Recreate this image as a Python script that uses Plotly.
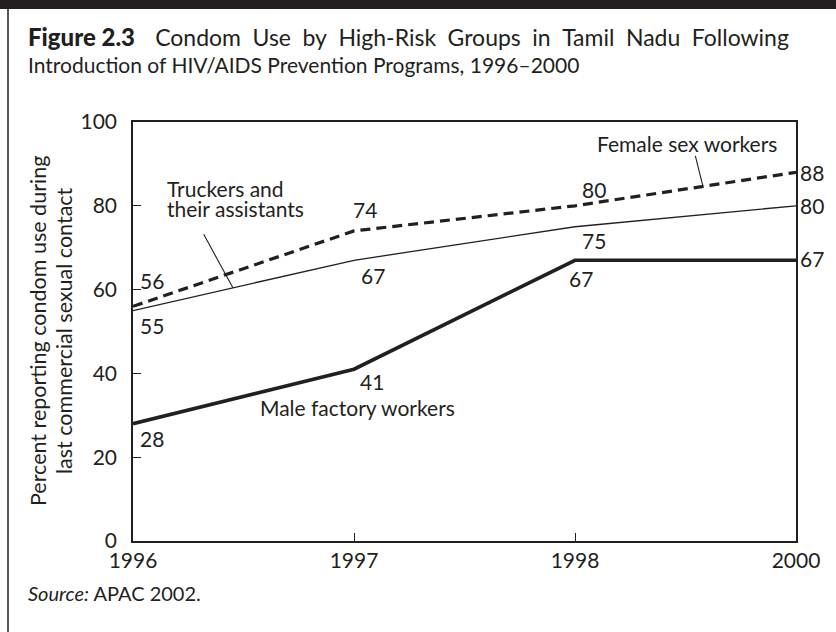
import plotly.graph_objects as go

# ---- data ----
years = ["1996", "1997", "1998", "2000"]
female_sex_workers = [56, 74, 80, 88]
truckers = [55, 67, 75, 80]
male_factory = [28, 41, 67, 67]

fig_label = "Figure 2.3"
title_line1 = "Condom Use by High-Risk Groups in Tamil Nadu Following"
title_line2 = "Introduction of HIV/AIDS Prevention Programs, 1996\u20132000"
ytitle1 = "Percent reporting condom use during"
ytitle2 = "last commercial sexual contact"
source = "APAC 2002."

# ---- layout constants ----
W, H = 836, 632
L, R, T, B = 133, 796, 122, 541
INK = "#231f20"
FONT = "Lato"

def px(xp):
    return (xp - L) / (R - L)

def py(yp):
    return (B - yp) / (B - T)

xs = list(range(len(years)))

fig = go.Figure()
fig.add_trace(go.Scatter(x=xs, y=female_sex_workers, mode="lines",
                         line=dict(color=INK, width=3.2, dash="10px,6px"),
                         hoverinfo="skip"))
fig.add_trace(go.Scatter(x=xs, y=truckers, mode="lines",
                         line=dict(color=INK, width=1.3), hoverinfo="skip"))
fig.add_trace(go.Scatter(x=xs, y=male_factory, mode="lines",
                         line=dict(color=INK, width=3.6), hoverinfo="skip"))

ann = []
fs = 21

def val(i, v, text, dx, dy, xanchor="center"):
    ann.append(dict(x=xs[i], y=v, xref="x", yref="y", text=text, showarrow=False,
                    xshift=dx, yshift=dy, xanchor=xanchor, yanchor="middle",
                    font=dict(size=fs, color=INK, family=FONT)))

# value labels
val(0, female_sex_workers[0], str(female_sex_workers[0]), 19, 26)
val(0, truckers[0], str(truckers[0]), 19, -15)
val(0, male_factory[0], str(male_factory[0]), 19, -15)
val(1, female_sex_workers[1], str(female_sex_workers[1]), 11, 21)
val(1, truckers[1], str(truckers[1]), 19, -15)
val(1, male_factory[1], str(male_factory[1]), 18, -12)
val(2, female_sex_workers[2], str(female_sex_workers[2]), 19, 16)
val(2, truckers[2], str(truckers[2]), 19, -14)
val(2, male_factory[2], str(male_factory[2]), 6, -18)
val(3, female_sex_workers[3], str(female_sex_workers[3]), 2, 0, "left")
val(3, truckers[3], str(truckers[3]), 2, 0, "left")
val(3, male_factory[3], str(male_factory[3]), 2, 2, "left")

def txt(xp, yp, text, xanchor="left", size=fs, textangle=0):
    ann.append(dict(x=px(xp), y=py(yp), xref="paper", yref="paper", text=text,
                    showarrow=False, xanchor=xanchor, yanchor="middle",
                    textangle=textangle,
                    font=dict(size=size, color=INK, family=FONT)))

# series labels
txt(165, 188, "Truckers and")
txt(165, 208, "their assistants")
txt(687, 143, "Female sex workers", "center")
txt(357, 407, "Male factory workers", "center")

# leader lines (arrows without heads pointing to the lines)
ann.append(dict(x=0.452, y=truckers[0] + 0.452 * (truckers[1] - truckers[0]),
                xref="x", yref="y", ax=-30, ay=-55, showarrow=True,
                arrowhead=0, arrowwidth=1.1, arrowcolor=INK, text=""))
ann.append(dict(x=2.579, y=female_sex_workers[2] + 0.579 * (female_sex_workers[3] - female_sex_workers[2]),
                xref="x", yref="y", ax=-8, ay=-32, showarrow=True,
                arrowhead=0, arrowwidth=1.1, arrowcolor=INK, text=""))

# title
line1 = ('<span style="font-size:24px;font-weight:900">' + fig_label + "</span>"
         + "\u2003\u2009" + title_line1.replace(" ", "\u2002"))
txt(26, 37, line1, size=23)
txt(26, 64, title_line2, size=21)
# y title
txt(38, 331, ytitle1, "center", size=21.5, textangle=-90)
txt(64, 331, ytitle2, "center", size=21.5, textangle=-90)
# source
txt(26, 593, "<i>Source:</i> " + source, size=20)

shapes = [
    dict(type="rect", xref="paper", yref="paper", x0=px(0), x1=px(W), y0=py(0), y1=py(9),
         fillcolor=INK, line=dict(width=0), layer="above"),
    dict(type="line", xref="paper", yref="paper", x0=px(8), x1=px(8), y0=py(9), y1=py(H),
         line=dict(color=INK, width=1.5)),
]

fig.update_layout(
    width=W, height=H,
    margin=dict(l=L, r=W - R, t=T, b=H - B, pad=0),
    paper_bgcolor="white", plot_bgcolor="white",
    showlegend=False,
    annotations=ann, shapes=shapes,
    font=dict(family=FONT, color=INK, size=21),
    xaxis=dict(range=[0, 3], tickvals=xs, ticktext=years, showgrid=False, zeroline=False,
               showline=True, linecolor=INK, linewidth=1.5, mirror=True,
               ticks="inside", ticklen=8, tickcolor=INK, tickwidth=1.2,
               tickfont=dict(size=21, color=INK, family=FONT)),
    yaxis=dict(range=[0, 100], tickvals=[0, 20, 40, 60, 80, 100], showgrid=False, zeroline=False,
               showline=True, linecolor=INK, linewidth=1.5, mirror=True,
               ticks="inside", ticklen=8, tickcolor=INK, tickwidth=1.2,
               ticklabelstandoff=10,
               tickfont=dict(size=21, color=INK, family=FONT)),
)

fig.write_html("out.html", config={"displayModeBar": False},
               post_script="document.body.style.margin='0';document.body.style.overflow='hidden';")
